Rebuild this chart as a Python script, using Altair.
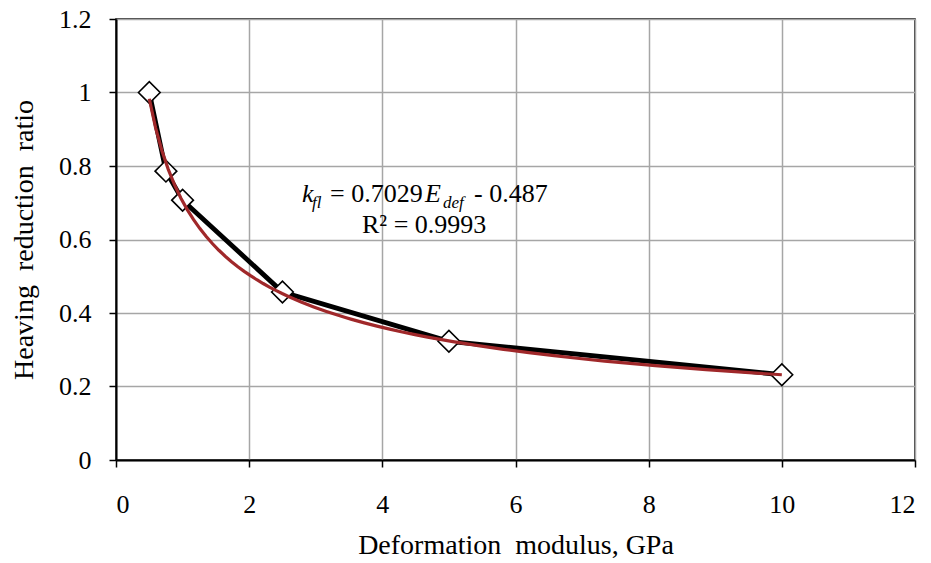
import altair as alt
import pandas as pd

# Data
modulus = [0.5, 0.75, 1.0, 2.5, 5.0, 10.0]
ratio = [1.0, 0.786, 0.707, 0.457, 0.323, 0.232]

x_ticks = [0, 2, 4, 6, 8, 10, 12]
y_ticks = [0, 0.2, 0.4, 0.6, 0.8, 1.0, 1.2]

df = pd.DataFrame({"x": modulus, "y": ratio})

FONT = "Liberation Serif"
W, H = 799, 441
SP = " \u00a0"  # double space that survives SVG whitespace collapsing

x_enc = alt.X(
    "x:Q",
    scale=alt.Scale(domain=[0, 12], nice=False, zero=False),
    axis=alt.Axis(
        values=x_ticks, format="d", title=f"Deformation{SP}modulus, GPa",
        titleY=93, titleBaseline="alphabetic", labelPadding=24,
    ),
)
y_enc = alt.Y(
    "y:Q",
    scale=alt.Scale(domain=[0, 1.2], nice=False),
    axis=alt.Axis(
        values=y_ticks, format="~g", title=f"Heaving{SP}reduction{SP}ratio",
        titleX=-84, titleBaseline="alphabetic", labelPadding=18,
    ),
)

base = alt.Chart(df)

line = base.mark_line(color="black", strokeWidth=4.8).encode(x=x_enc, y=y_enc)

points = base.mark_point(
    shape="diamond", filled=True, fill="white", fillOpacity=1,
    stroke="black", strokeWidth=1.6, size=470, opacity=1,
).encode(x="x:Q", y="y:Q")

trend = base.transform_regression(
    "x", "y", method="pow", extent=[0.5, 10]
).mark_line(color="#a0282a", strokeWidth=3.2).encode(x="x:Q", y="y:Q")


def txt(text, x, y, size=26, italic=False):
    return alt.Chart(alt.Data(values=[{}])).mark_text(
        text=text, font=FONT, fontSize=size, align="left",
        baseline="alphabetic", color="black",
        fontStyle="italic" if italic else "normal",
    ).encode(x=alt.value(x), y=alt.value(y))


ann = [
    txt("k", 186, 183, italic=True),
    txt("fl", 196, 189, size=17, italic=True),
    txt("= 0.7029", 214, 183),
    txt("E", 309, 183, italic=True),
    txt("def", 327, 189, size=17, italic=True),
    txt("- 0.487", 358, 183),
    txt("R² = 0.9993", 246, 214),
]

chart = alt.layer(line, points, trend, *ann).properties(
    width=W, height=H,
    background="white",
    autosize=alt.AutoSizeParams(type="none"),
    padding={"left": 108, "top": 11, "right": 8, "bottom": 100},
).configure_view(
    stroke="black", strokeWidth=1.5
).configure_axis(
    labelFont=FONT, labelFontSize=26, labelColor="black",
    titleFont=FONT, titleFontSize=28, titleFontWeight="normal", titleColor="black",
    domainColor="black", domainWidth=2,
    tickColor="black", tickWidth=1.5, tickSize=7,
    gridColor="#a6a6a6", gridWidth=1.5, gridOpacity=1,
)

chart.save("out.html", embed_options={"renderer": "svg", "actions": False})
